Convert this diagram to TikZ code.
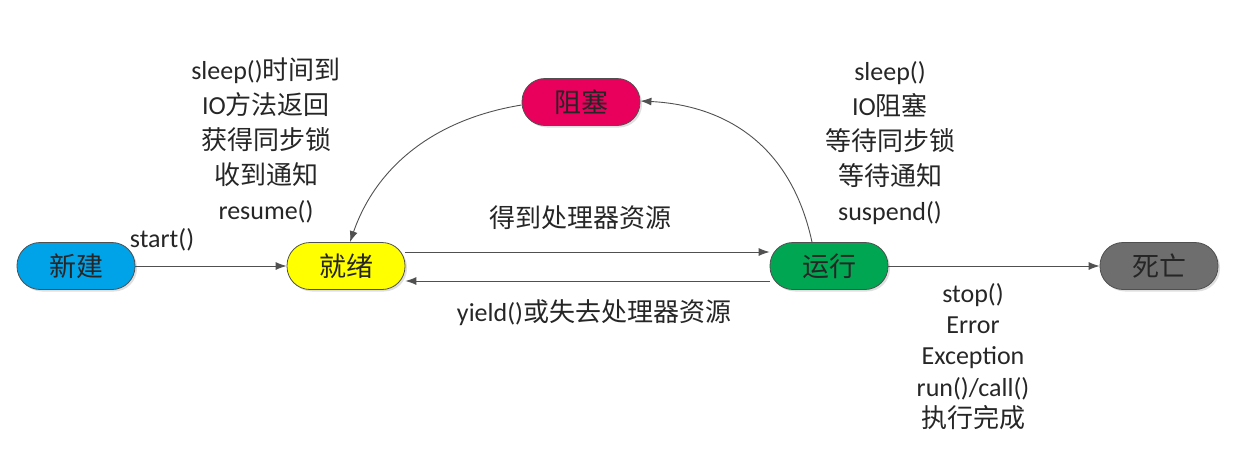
\documentclass[tikz,border=0pt]{standalone}
\usepackage{fontspec}
\setmainfont{Carlito}
\newfontfamily\cjk{Noto Sans CJK SC}
\newcommand{\zh}[1]{{\cjk #1}}
\usetikzlibrary{arrows.meta,shadows,calc}
\definecolor{cnew}{RGB}{0,162,232}
\definecolor{cready}{RGB}{255,255,0}
\definecolor{cblock}{RGB}{233,0,92}
\definecolor{crun}{RGB}{0,166,81}
\definecolor{cdead}{RGB}{110,110,110}
\definecolor{cline}{RGB}{80,80,80}
\tikzset{
  state/.style={rectangle, rounded corners=23pt, minimum width=118pt, minimum height=47pt,
    draw=cline, line width=0.8pt, font=\fontsize{27}{27}\selectfont\cjk, text=black!85,
    drop shadow={shadow xshift=2pt, shadow yshift=-2pt, opacity=0.25}},
  conn/.style={draw=cline, line width=0.9pt, -{Latex[length=11pt,width=8pt]}},
  lbl/.style={font=\fontsize{26}{35}\selectfont, text=black!85, align=center, inner sep=0pt}
}
\begin{document}
\begin{tikzpicture}[x=1pt,y=-1pt]
\useasboundingbox (0,0) rectangle (1239,469);
\node[state, fill=cnew] (new) at (76,266) {新建};
\node[state, fill=cready] (ready) at (346,266) {就绪};
\node[state, fill=cblock] (block) at (581,102) {阻塞};
\node[state, fill=crun] (run) at (829,266) {运行};
\node[state, fill=cdead] (dead) at (1159,266) {死亡};

\draw[conn] (new.east) -- (ready.west);
\draw[conn] (ready.east |- 0,252) -- (run.west |- 0,252);
\draw[conn] (run.west |- 0,281) -- (ready.east |- 0,281);
\draw[conn] (run.east) -- (dead.west);
\coordinate (runtop) at ($(run.north)+(-17,0)$);
\coordinate (blk) at ($(block.east)+(0,-1)$);
\draw[conn] (runtop) .. controls (790,140) and (720,105) .. (blk);
\coordinate (blkw) at ($(block.west)+(0,3)$);
\coordinate (rdtop) at ($(ready.north)+(4,0)$);
\draw[conn] (blkw) .. controls (430,120) and (375,170) .. (rdtop);

\node[lbl] (lstart) at (162,240) {start()};
\node[lbl] (lget) at (580,218) {\zh{得到处理器资源}};
\node[lbl] (lyield) at (594,313) {yield()\zh{或失去处理器资源}};
\node[lbl, anchor=north] (lleft) at (266,58) {sleep()\zh{时间到}\\IO\zh{方法返回}\\\zh{获得同步锁}\\\zh{收到通知}\\resume()};
\node[lbl, anchor=north] (lright) at (890,61) {sleep()\\IO\zh{阻塞}\\\zh{等待同步锁}\\\zh{等待通知}\\suspend()};
\node[lbl, anchor=north, font=\fontsize{26}{31.3}\selectfont] (ldead) at (973,283) {stop()\\Error\\Exception\\run()/call()\\\zh{执行完成}};
\end{tikzpicture}
\end{document}
